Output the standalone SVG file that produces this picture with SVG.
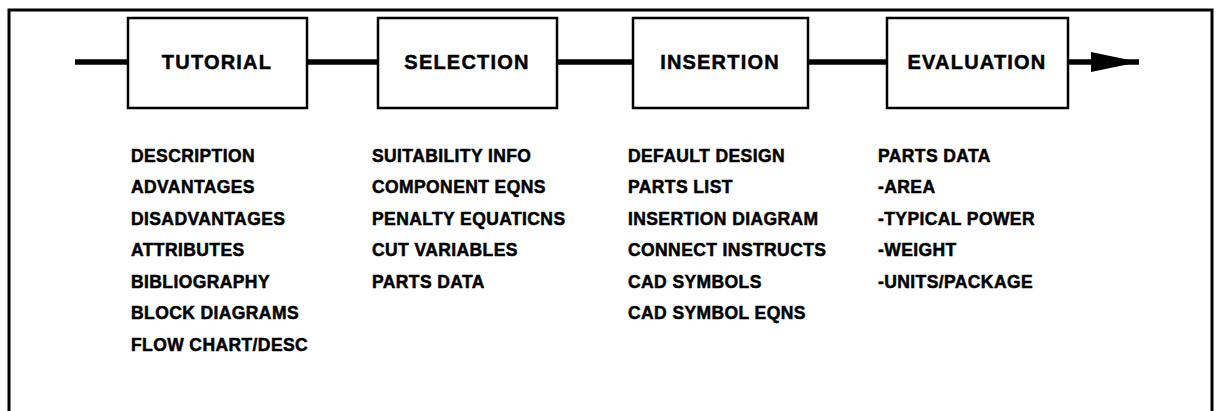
<svg xmlns="http://www.w3.org/2000/svg" width="1217" height="411" viewBox="0 0 1217 411">
  <style>
    .frame { fill: none; stroke: #000; stroke-width: 3; }
    .box { fill: #fff; stroke: #000; stroke-width: 2.5; }
    .title { font-family: "Liberation Sans", Arial, sans-serif; font-weight: bold; font-size: 20px; letter-spacing: 1.2px; text-anchor: middle; fill: #000; stroke: #000; stroke-width: 0.5; }
    .item { font-family: "Liberation Sans", Arial, sans-serif; font-weight: bold; font-size: 17.5px; letter-spacing: 0.4px; fill: #000; stroke: #000; stroke-width: 0.5; }
    .flow { fill: none; stroke: #000; stroke-width: 5.5; }
  </style>
  <defs>
    <marker id="head" markerUnits="userSpaceOnUse" markerWidth="50" markerHeight="24" refX="48" refY="12" orient="auto">
      <polygon points="0,2 48,12 0,22" fill="#000"/>
    </marker>
  </defs>
  <rect width="1217" height="411" fill="#fff"/>
  <!-- outer frame, open at the bottom edge of the sheet -->
  <path class="frame" d="M9,420 V10 H1212 V420"/>

  <g id="connectors">
    <line class="flow" x1="75" y1="62" x2="128" y2="62"/>
    <line class="flow" x1="307" y1="62" x2="378" y2="62"/>
    <line class="flow" x1="557" y1="62" x2="633" y2="62"/>
    <line class="flow" x1="808" y1="62" x2="887" y2="62"/>
    <line class="flow" x1="1068" y1="62" x2="1139" y2="62" marker-end="url(#head)"/>
  </g>

  <g id="tutorial">
    <rect class="box" x="128" y="18" width="179" height="90"/>
    <text class="title" x="217" y="69">TUTORIAL</text>
    <text class="item" x="131" y="162">DESCRIPTION</text>
    <text class="item" x="131" y="193">ADVANTAGES</text>
    <text class="item" x="131" y="225">DISADVANTAGES</text>
    <text class="item" x="131" y="256">ATTRIBUTES</text>
    <text class="item" x="131" y="288">BIBLIOGRAPHY</text>
    <text class="item" x="131" y="319">BLOCK DIAGRAMS</text>
    <text class="item" x="131" y="351">FLOW CHART/DESC</text>
  </g>

  <g id="selection">
    <rect class="box" x="378" y="18" width="179" height="90"/>
    <text class="title" x="467" y="69">SELECTION</text>
    <text class="item" x="372" y="162">SUITABILITY INFO</text>
    <text class="item" x="372" y="193">COMPONENT EQNS</text>
    <text class="item" x="372" y="225">PENALTY EQUATICNS</text>
    <text class="item" x="372" y="256">CUT VARIABLES</text>
    <text class="item" x="372" y="288">PARTS DATA</text>
  </g>

  <g id="insertion">
    <rect class="box" x="633" y="18" width="175" height="90"/>
    <text class="title" x="720" y="69">INSERTION</text>
    <text class="item" x="628" y="162">DEFAULT DESIGN</text>
    <text class="item" x="628" y="193">PARTS LIST</text>
    <text class="item" x="628" y="225">INSERTION DIAGRAM</text>
    <text class="item" x="628" y="256">CONNECT INSTRUCTS</text>
    <text class="item" x="628" y="288">CAD SYMBOLS</text>
    <text class="item" x="628" y="319">CAD SYMBOL EQNS</text>
  </g>

  <g id="evaluation">
    <rect class="box" x="887" y="18" width="181" height="90"/>
    <text class="title" x="977" y="69">EVALUATION</text>
    <text class="item" x="878" y="162">PARTS DATA</text>
    <text class="item" x="878" y="193">-AREA</text>
    <text class="item" x="878" y="225">-TYPICAL POWER</text>
    <text class="item" x="878" y="256">-WEIGHT</text>
    <text class="item" x="878" y="288">-UNITS/PACKAGE</text>
  </g>
</svg>
